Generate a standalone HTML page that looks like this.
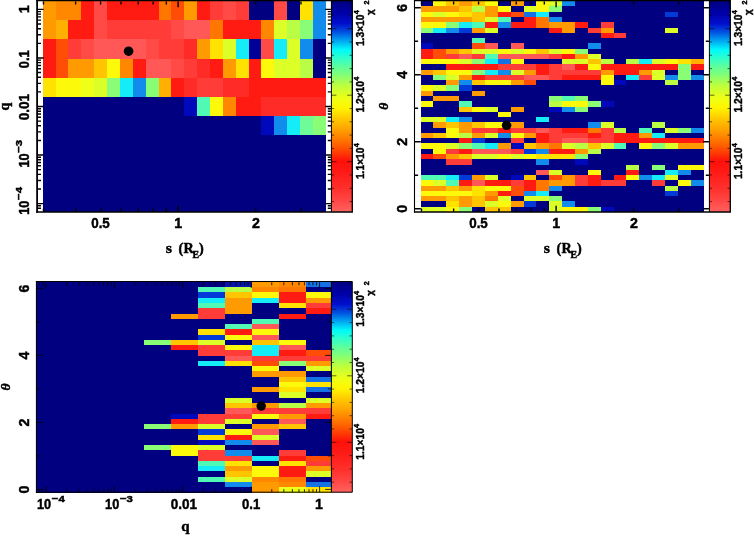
<!DOCTYPE html>
<html><head><meta charset="utf-8"><title>chi2 maps</title>
<style>html,body{margin:0;padding:0;background:#fff}svg{display:block}text{font-family:"Liberation Sans",sans-serif;font-weight:bold;fill:#000;stroke:#000;stroke-width:0.45px}.s{font-family:"Liberation Serif",serif;font-weight:bold}.i{font-family:"Liberation Serif",serif;font-weight:bold;font-style:italic}</style></head><body>
<svg width="754" height="537" viewBox="0 0 754 537">
<defs><linearGradient id="cb" x1="0" y1="0" x2="0" y2="1">
<stop offset="0.0000" stop-color="#000080"/>
<stop offset="0.0548" stop-color="#0000a5"/>
<stop offset="0.1071" stop-color="#000fcd"/>
<stop offset="0.1500" stop-color="#0055e1"/>
<stop offset="0.1833" stop-color="#009bf0"/>
<stop offset="0.2310" stop-color="#00fafa"/>
<stop offset="0.2738" stop-color="#32ffc8"/>
<stop offset="0.3167" stop-color="#64ff96"/>
<stop offset="0.3405" stop-color="#78ff82"/>
<stop offset="0.4024" stop-color="#beff3c"/>
<stop offset="0.4643" stop-color="#f0ff14"/>
<stop offset="0.5071" stop-color="#fff500"/>
<stop offset="0.5581" stop-color="#ffc800"/>
<stop offset="0.6119" stop-color="#ffa000"/>
<stop offset="0.6910" stop-color="#ff5a00"/>
<stop offset="0.7595" stop-color="#ff100a"/>
<stop offset="0.8262" stop-color="#ff1e1a"/>
<stop offset="0.8976" stop-color="#ff322e"/>
<stop offset="0.9452" stop-color="#ff4644"/>
<stop offset="1.0000" stop-color="#ff625f"/>
</linearGradient></defs>
<rect width="754" height="537" fill="#fff"/>
<g shape-rendering="crispEdges">
<rect x="43" y="1" width="283.2" height="211" fill="#000080"/>
<rect x="43" y="1" width="13" height="19" fill="#ff9a00"/>
<rect x="56" y="1" width="25" height="19" fill="#ff8800"/>
<rect x="81" y="1" width="13" height="19" fill="#ff1b11"/>
<rect x="94" y="1" width="13" height="19" fill="#ff4a46"/>
<rect x="107" y="1" width="52" height="19" fill="#ff1b11"/>
<rect x="159" y="1" width="12" height="19" fill="#ff7600"/>
<rect x="171" y="1" width="13" height="19" fill="#ff4c06"/>
<rect x="184" y="1" width="13" height="19" fill="#ff9a00"/>
<rect x="197" y="1" width="13" height="19" fill="#ff1b11"/>
<rect x="210" y="1" width="13" height="19" fill="#ff3c38"/>
<rect x="223" y="1" width="13" height="19" fill="#ff4a46"/>
<rect x="236" y="1" width="13" height="19" fill="#ff3c38"/>
<rect x="274" y="1" width="13" height="19" fill="#ff4a46"/>
<rect x="300" y="1" width="13" height="19" fill="#ffe200"/>
<rect x="313" y="1" width="13" height="19" fill="#128cec"/>
<rect x="43" y="20" width="13" height="19" fill="#ff9a00"/>
<rect x="56" y="20" width="12" height="19" fill="#ffb000"/>
<rect x="68" y="20" width="26" height="19" fill="#ff1b11"/>
<rect x="94" y="20" width="13" height="19" fill="#ff4a46"/>
<rect x="107" y="20" width="64" height="19" fill="#ff3c38"/>
<rect x="171" y="20" width="13" height="19" fill="#ff4a46"/>
<rect x="184" y="20" width="26" height="19" fill="#ff5856"/>
<rect x="210" y="20" width="13" height="19" fill="#ff7600"/>
<rect x="223" y="20" width="38" height="19" fill="#ff1b11"/>
<rect x="261" y="20" width="13" height="19" fill="#ff8800"/>
<rect x="274" y="20" width="13" height="19" fill="#ddff28"/>
<rect x="287" y="20" width="13" height="19" fill="#b9fe44"/>
<rect x="300" y="20" width="13" height="19" fill="#8afd76"/>
<rect x="313" y="20" width="13" height="19" fill="#128cec"/>
<rect x="43" y="39" width="13" height="20" fill="#ff1b11"/>
<rect x="56" y="39" width="12" height="20" fill="#ff4c06"/>
<rect x="68" y="39" width="13" height="20" fill="#ff3c38"/>
<rect x="81" y="39" width="13" height="20" fill="#ff4a46"/>
<rect x="94" y="39" width="52" height="20" fill="#ff5856"/>
<rect x="146" y="39" width="13" height="20" fill="#ff4a46"/>
<rect x="159" y="39" width="25" height="20" fill="#ff3c38"/>
<rect x="184" y="39" width="13" height="20" fill="#ff2b26"/>
<rect x="197" y="39" width="13" height="20" fill="#ff9a00"/>
<rect x="210" y="39" width="13" height="20" fill="#ffe200"/>
<rect x="223" y="39" width="13" height="20" fill="#ddff28"/>
<rect x="236" y="39" width="13" height="20" fill="#14ecf8"/>
<rect x="249" y="39" width="12" height="20" fill="#000098"/>
<rect x="261" y="39" width="13" height="20" fill="#ff4a46"/>
<rect x="274" y="39" width="13" height="20" fill="#14ecf8"/>
<rect x="287" y="39" width="13" height="20" fill="#ddff28"/>
<rect x="300" y="39" width="13" height="20" fill="#128cec"/>
<rect x="43" y="59" width="13" height="19" fill="#ff1b11"/>
<rect x="56" y="59" width="12" height="19" fill="#ff4c06"/>
<rect x="68" y="59" width="26" height="19" fill="#ff9a00"/>
<rect x="94" y="59" width="13" height="19" fill="#ffc600"/>
<rect x="107" y="59" width="13" height="19" fill="#fcf90a"/>
<rect x="120" y="59" width="13" height="19" fill="#ff8800"/>
<rect x="133" y="59" width="13" height="19" fill="#ff1b11"/>
<rect x="146" y="59" width="25" height="19" fill="#ff5856"/>
<rect x="171" y="59" width="13" height="19" fill="#ff4a46"/>
<rect x="184" y="59" width="13" height="19" fill="#ff3c38"/>
<rect x="197" y="59" width="13" height="19" fill="#ff2b26"/>
<rect x="210" y="59" width="13" height="19" fill="#ff1b11"/>
<rect x="223" y="59" width="13" height="19" fill="#ff9a00"/>
<rect x="236" y="59" width="13" height="19" fill="#ffe200"/>
<rect x="249" y="59" width="12" height="19" fill="#ff1b11"/>
<rect x="261" y="59" width="13" height="19" fill="#fcf90a"/>
<rect x="274" y="59" width="26" height="19" fill="#ddff28"/>
<rect x="300" y="59" width="13" height="19" fill="#b9fe44"/>
<rect x="43" y="78" width="13" height="19" fill="#ffe200"/>
<rect x="56" y="78" width="25" height="19" fill="#fcf90a"/>
<rect x="81" y="78" width="13" height="19" fill="#eeff18"/>
<rect x="94" y="78" width="13" height="19" fill="#ddff28"/>
<rect x="107" y="78" width="13" height="19" fill="#8afd76"/>
<rect x="120" y="78" width="13" height="19" fill="#14ecf8"/>
<rect x="133" y="78" width="13" height="19" fill="#128cec"/>
<rect x="146" y="78" width="13" height="19" fill="#8afd76"/>
<rect x="159" y="78" width="12" height="19" fill="#ffb000"/>
<rect x="171" y="78" width="13" height="19" fill="#ff1b11"/>
<rect x="184" y="78" width="13" height="19" fill="#ff2b26"/>
<rect x="197" y="78" width="26" height="19" fill="#ff3c38"/>
<rect x="223" y="78" width="26" height="19" fill="#ff2b26"/>
<rect x="249" y="78" width="77" height="19" fill="#ff1b11"/>
<rect x="184" y="97" width="13" height="19" fill="#0008bc"/>
<rect x="197" y="97" width="13" height="19" fill="#50fab4"/>
<rect x="210" y="97" width="13" height="19" fill="#fcf90a"/>
<rect x="223" y="97" width="13" height="19" fill="#ff8800"/>
<rect x="236" y="97" width="25" height="19" fill="#ff1b11"/>
<rect x="261" y="97" width="65" height="19" fill="#ff2b26"/>
<rect x="261" y="116" width="13" height="19" fill="#0008bc"/>
<rect x="274" y="116" width="13" height="19" fill="#128cec"/>
<rect x="287" y="116" width="13" height="19" fill="#14ecf8"/>
<rect x="300" y="116" width="13" height="19" fill="#6efb98"/>
<rect x="313" y="116" width="13" height="19" fill="#8afd76"/>
</g>
<g transform="translate(0,0)">
<rect x="331" y="1" width="21.2" height="210.8" fill="url(#cb)"/>
<path d="M331.6 2.1h2.5 M352 2.1h-2.5 M331.6 15.4h2.5 M352 15.4h-2.5 M331.6 28.7h4.8 M352 28.7h-4.8 M331.6 42h2.5 M352 42h-2.5 M331.6 55.3h2.5 M352 55.3h-2.5 M331.6 68.6h2.5 M352 68.6h-2.5 M331.6 81.9h2.5 M352 81.9h-2.5 M331.6 95.2h4.8 M352 95.2h-4.8 M331.6 108.5h2.5 M352 108.5h-2.5 M331.6 121.8h2.5 M352 121.8h-2.5 M331.6 135.1h2.5 M352 135.1h-2.5 M331.6 148.4h2.5 M352 148.4h-2.5 M331.6 161.7h4.8 M352 161.7h-4.8 M331.6 175h2.5 M352 175h-2.5 M331.6 188.3h2.5 M352 188.3h-2.5 M331.6 201.6h2.5 M352 201.6h-2.5" stroke="#000" stroke-opacity="0.75" stroke-width="0.8" fill="none"/>
<text transform="translate(364,46.1) rotate(-90)" font-size="10.6" textLength="31.6" lengthAdjust="spacingAndGlyphs">1.3×10</text>
<text transform="translate(359,14.3) rotate(-90)" font-size="7.2">4</text>
<text transform="translate(364,112.6) rotate(-90)" font-size="10.6" textLength="31.6" lengthAdjust="spacingAndGlyphs">1.2×10</text>
<text transform="translate(359,80.8) rotate(-90)" font-size="7.2">4</text>
<text transform="translate(364,179.1) rotate(-90)" font-size="10.6" textLength="31.6" lengthAdjust="spacingAndGlyphs">1.1×10</text>
<text transform="translate(359,147.3) rotate(-90)" font-size="7.2">4</text>
<text transform="translate(373.3,15.1) rotate(-90)" font-size="9.8">χ</text>
<text transform="translate(369.2,4.6) rotate(-90)" font-size="7.2">2</text>
</g>
<path d="M36.2 0.7H352.3V212H36.2" fill="none" stroke="#000" stroke-width="1.3"/>
<path d="M37.1 0.05V212.65" fill="none" stroke="#000" stroke-width="1.8"/>
<path d="M331.4 0.7V212" fill="none" stroke="#000" stroke-width="1"/>
<path d="M43.46 1.4v3.1 M43.46 211.5v-3.1 M75.63 1.4v3.1 M75.63 211.5v-3.1 M100.58 1.4v3.1 M100.58 211.5v-3.1 M120.97 1.4v3.1 M120.97 211.5v-3.1 M138.21 1.4v3.1 M138.21 211.5v-3.1 M153.15 1.4v3.1 M153.15 211.5v-3.1 M166.32 1.4v3.1 M166.32 211.5v-3.1 M178.1 1.4v5.8 M178.1 211.5v-5.8 M255.62 1.4v3.1 M255.62 211.5v-3.1 M300.96 1.4v3.1 M300.96 211.5v-3.1" stroke="#000" stroke-width="1.4" fill="none"/>
<path d="M37.9 208.3h3.1 M330.9 208.3h-3.1 M37.9 205.82h3.1 M330.9 205.82h-3.1 M37.9 203.6h5.8 M330.9 203.6h-5.8 M37.9 188.98h3.1 M330.9 188.98h-3.1 M37.9 180.44h3.1 M330.9 180.44h-3.1 M37.9 174.37h3.1 M330.9 174.37h-3.1 M37.9 169.67h3.1 M330.9 169.67h-3.1 M37.9 165.82h3.1 M330.9 165.82h-3.1 M37.9 162.57h3.1 M330.9 162.57h-3.1 M37.9 159.75h3.1 M330.9 159.75h-3.1 M37.9 157.27h3.1 M330.9 157.27h-3.1 M37.9 155.05h5.8 M330.9 155.05h-5.8 M37.9 140.43h3.1 M330.9 140.43h-3.1 M37.9 131.89h3.1 M330.9 131.89h-3.1 M37.9 125.82h3.1 M330.9 125.82h-3.1 M37.9 121.12h3.1 M330.9 121.12h-3.1 M37.9 117.27h3.1 M330.9 117.27h-3.1 M37.9 114.02h3.1 M330.9 114.02h-3.1 M37.9 111.2h3.1 M330.9 111.2h-3.1 M37.9 108.72h3.1 M330.9 108.72h-3.1 M37.9 106.5h5.8 M330.9 106.5h-5.8 M37.9 91.88h3.1 M330.9 91.88h-3.1 M37.9 83.34h3.1 M330.9 83.34h-3.1 M37.9 77.27h3.1 M330.9 77.27h-3.1 M37.9 72.57h3.1 M330.9 72.57h-3.1 M37.9 68.72h3.1 M330.9 68.72h-3.1 M37.9 65.47h3.1 M330.9 65.47h-3.1 M37.9 62.65h3.1 M330.9 62.65h-3.1 M37.9 60.17h3.1 M330.9 60.17h-3.1 M37.9 57.95h5.8 M330.9 57.95h-5.8 M37.9 43.33h3.1 M330.9 43.33h-3.1 M37.9 34.79h3.1 M330.9 34.79h-3.1 M37.9 28.72h3.1 M330.9 28.72h-3.1 M37.9 24.02h3.1 M330.9 24.02h-3.1 M37.9 20.17h3.1 M330.9 20.17h-3.1 M37.9 16.92h3.1 M330.9 16.92h-3.1 M37.9 14.1h3.1 M330.9 14.1h-3.1 M37.9 11.62h3.1 M330.9 11.62h-3.1 M37.9 9.4h5.8 M330.9 9.4h-5.8" stroke="#000" stroke-width="1.4" fill="none"/>
<circle cx="128.6" cy="51.2" r="4.8" fill="#000"/>
<text transform="translate(28.9,9.2) rotate(-90)" font-size="14.2" text-anchor="middle">1</text>
<text transform="translate(28.9,68.2) rotate(-90)" font-size="14.2" textLength="17.8" lengthAdjust="spacingAndGlyphs">0.1</text>
<text transform="translate(28.9,120.3) rotate(-90)" font-size="14.2" textLength="26.3" lengthAdjust="spacingAndGlyphs">0.01</text>
<text transform="translate(28.9,167.6) rotate(-90)" font-size="14.2" textLength="14.2" lengthAdjust="spacingAndGlyphs">10</text>
<text transform="translate(21.6,152.8) rotate(-90)" font-size="9.6" textLength="13" lengthAdjust="spacingAndGlyphs">−3</text>
<text transform="translate(28.9,214.8) rotate(-90)" font-size="14.2" textLength="14.2" lengthAdjust="spacingAndGlyphs">10</text>
<text transform="translate(21.6,200) rotate(-90)" font-size="9.6" textLength="13" lengthAdjust="spacingAndGlyphs">−4</text>
<text transform="translate(9.4,106.5) rotate(-90)" font-size="14" class="s" text-anchor="middle">q</text>
<text x="100.5" y="227.6" font-size="14.2" textLength="18.6" lengthAdjust="spacingAndGlyphs" text-anchor="middle">0.5</text>
<text x="178.3" y="227.6" font-size="14.2" text-anchor="middle">1</text>
<text x="255.9" y="227.6" font-size="14.2" text-anchor="middle">2</text>
<text class="s" font-size="14.2" y="252.9"><tspan x="165.8" textLength="6.2" lengthAdjust="spacingAndGlyphs">s</tspan><tspan x="178.6">(</tspan><tspan x="183.4">R</tspan><tspan x="192.6" dy="5.1" font-size="9.8">E</tspan><tspan x="199.1" dy="-5.1">)</tspan></text>
<g shape-rendering="crispEdges">
<rect x="421" y="1" width="283.2" height="211" fill="#000080"/>
<rect x="433" y="1" width="13" height="5" fill="#fcf90a"/>
<rect x="446" y="1" width="13" height="5" fill="#ffc600"/>
<rect x="459" y="1" width="13" height="5" fill="#ff9a00"/>
<rect x="472" y="1" width="13" height="5" fill="#ffc600"/>
<rect x="485" y="1" width="13" height="5" fill="#fcf90a"/>
<rect x="511" y="1" width="13" height="5" fill="#ff9a00"/>
<rect x="536" y="1" width="13" height="5" fill="#fcf90a"/>
<rect x="549" y="1" width="13" height="5" fill="#ddff28"/>
<rect x="562" y="1" width="13" height="5" fill="#128cec"/>
<rect x="421" y="6" width="38" height="6" fill="#ff9a00"/>
<rect x="459" y="6" width="13" height="6" fill="#ffc600"/>
<rect x="472" y="6" width="13" height="6" fill="#b9fe44"/>
<rect x="485" y="6" width="13" height="6" fill="#ff9a00"/>
<rect x="498" y="6" width="13" height="6" fill="#fcf90a"/>
<rect x="524" y="6" width="12" height="6" fill="#ddff28"/>
<rect x="536" y="6" width="13" height="6" fill="#fcf90a"/>
<rect x="549" y="6" width="13" height="6" fill="#8afd76"/>
<rect x="421" y="12" width="12" height="5" fill="#fcf90a"/>
<rect x="433" y="12" width="13" height="5" fill="#ddff28"/>
<rect x="446" y="12" width="13" height="5" fill="#fcf90a"/>
<rect x="459" y="12" width="13" height="5" fill="#ffe200"/>
<rect x="472" y="12" width="13" height="5" fill="#ffc600"/>
<rect x="485" y="12" width="13" height="5" fill="#ff9a00"/>
<rect x="498" y="12" width="13" height="5" fill="#ff1b11"/>
<rect x="511" y="12" width="13" height="5" fill="#ff4c06"/>
<rect x="524" y="12" width="12" height="5" fill="#1472e6"/>
<rect x="536" y="12" width="13" height="5" fill="#14ecf8"/>
<rect x="665" y="12" width="13" height="5" fill="#023ada"/>
<rect x="421" y="17" width="51" height="5" fill="#ff9a00"/>
<rect x="472" y="17" width="13" height="5" fill="#ffc600"/>
<rect x="485" y="17" width="13" height="5" fill="#ddff28"/>
<rect x="498" y="17" width="13" height="5" fill="#50fab4"/>
<rect x="524" y="17" width="12" height="5" fill="#ff1b11"/>
<rect x="536" y="17" width="13" height="5" fill="#ff7600"/>
<rect x="549" y="17" width="13" height="5" fill="#128cec"/>
<rect x="421" y="22" width="25" height="6" fill="#fcf90a"/>
<rect x="446" y="22" width="13" height="6" fill="#8afd76"/>
<rect x="459" y="22" width="13" height="6" fill="#14ecf8"/>
<rect x="472" y="22" width="13" height="6" fill="#50fab4"/>
<rect x="485" y="22" width="13" height="6" fill="#ff1b11"/>
<rect x="498" y="22" width="13" height="6" fill="#128cec"/>
<rect x="511" y="22" width="25" height="6" fill="#ff1b11"/>
<rect x="536" y="22" width="13" height="6" fill="#ff7600"/>
<rect x="549" y="22" width="26" height="6" fill="#ff9a00"/>
<rect x="575" y="22" width="13" height="6" fill="#ff1b11"/>
<rect x="601" y="22" width="13" height="6" fill="#ff3c38"/>
<rect x="421" y="28" width="12" height="5" fill="#8afd76"/>
<rect x="433" y="28" width="13" height="5" fill="#14ecf8"/>
<rect x="446" y="28" width="13" height="5" fill="#128cec"/>
<rect x="459" y="28" width="13" height="5" fill="#023ada"/>
<rect x="472" y="28" width="13" height="5" fill="#ff9a00"/>
<rect x="485" y="28" width="13" height="5" fill="#ddff28"/>
<rect x="549" y="28" width="13" height="5" fill="#ff1b11"/>
<rect x="562" y="28" width="13" height="5" fill="#ff9a00"/>
<rect x="588" y="28" width="13" height="5" fill="#ff3c38"/>
<rect x="601" y="28" width="13" height="5" fill="#ff9a00"/>
<rect x="665" y="28" width="13" height="5" fill="#ddff28"/>
<rect x="601" y="33" width="13" height="5" fill="#ff1b11"/>
<rect x="614" y="33" width="12" height="5" fill="#ff3c38"/>
<rect x="472" y="38" width="13" height="5" fill="#50fab4"/>
<rect x="421" y="43" width="12" height="6" fill="#0008bc"/>
<rect x="472" y="43" width="13" height="6" fill="#ff4c06"/>
<rect x="485" y="43" width="13" height="6" fill="#ff5856"/>
<rect x="511" y="43" width="13" height="6" fill="#ff5856"/>
<rect x="588" y="43" width="13" height="6" fill="#128cec"/>
<rect x="421" y="49" width="12" height="5" fill="#ff1b11"/>
<rect x="433" y="49" width="13" height="5" fill="#ff4c06"/>
<rect x="446" y="49" width="13" height="5" fill="#ff9a00"/>
<rect x="459" y="49" width="13" height="5" fill="#ffc600"/>
<rect x="472" y="49" width="26" height="5" fill="#ddff28"/>
<rect x="498" y="49" width="13" height="5" fill="#fcf90a"/>
<rect x="511" y="49" width="13" height="5" fill="#ddff28"/>
<rect x="524" y="49" width="12" height="5" fill="#fcf90a"/>
<rect x="536" y="49" width="13" height="5" fill="#ffc600"/>
<rect x="549" y="49" width="13" height="5" fill="#ddff28"/>
<rect x="562" y="49" width="13" height="5" fill="#fcf90a"/>
<rect x="575" y="49" width="13" height="5" fill="#8afd76"/>
<rect x="421" y="54" width="12" height="5" fill="#ff1b11"/>
<rect x="433" y="54" width="13" height="5" fill="#ff4c06"/>
<rect x="446" y="54" width="13" height="5" fill="#ff3c38"/>
<rect x="459" y="54" width="13" height="5" fill="#ff5856"/>
<rect x="472" y="54" width="13" height="5" fill="#ff3c38"/>
<rect x="485" y="54" width="13" height="5" fill="#50fab4"/>
<rect x="498" y="54" width="51" height="5" fill="#ff5856"/>
<rect x="549" y="54" width="13" height="5" fill="#ff3c38"/>
<rect x="562" y="54" width="13" height="5" fill="#ff1b11"/>
<rect x="575" y="54" width="13" height="5" fill="#ff9a00"/>
<rect x="588" y="54" width="13" height="5" fill="#ddff28"/>
<rect x="421" y="59" width="38" height="5" fill="#fcf90a"/>
<rect x="459" y="59" width="13" height="5" fill="#ddff28"/>
<rect x="472" y="59" width="13" height="5" fill="#8afd76"/>
<rect x="485" y="59" width="13" height="5" fill="#14ecf8"/>
<rect x="498" y="59" width="13" height="5" fill="#1472e6"/>
<rect x="511" y="59" width="13" height="5" fill="#fcf90a"/>
<rect x="562" y="59" width="26" height="5" fill="#ddff28"/>
<rect x="588" y="59" width="13" height="5" fill="#ffc600"/>
<rect x="601" y="59" width="13" height="5" fill="#b9fe44"/>
<rect x="626" y="59" width="13" height="5" fill="#b9fe44"/>
<rect x="639" y="59" width="13" height="5" fill="#14ecf8"/>
<rect x="652" y="59" width="13" height="5" fill="#ddff28"/>
<rect x="665" y="59" width="13" height="5" fill="#fcf90a"/>
<rect x="678" y="59" width="13" height="5" fill="#ffe200"/>
<rect x="691" y="59" width="13" height="5" fill="#ffb000"/>
<rect x="446" y="64" width="52" height="6" fill="#ff1b11"/>
<rect x="498" y="64" width="38" height="6" fill="#ff3c38"/>
<rect x="536" y="64" width="13" height="6" fill="#ff1b11"/>
<rect x="549" y="64" width="13" height="6" fill="#ff3c38"/>
<rect x="562" y="64" width="13" height="6" fill="#ff5856"/>
<rect x="575" y="64" width="13" height="6" fill="#ff1b11"/>
<rect x="588" y="64" width="13" height="6" fill="#fcf90a"/>
<rect x="601" y="64" width="77" height="6" fill="#ff1b11"/>
<rect x="678" y="64" width="13" height="6" fill="#8afd76"/>
<rect x="691" y="64" width="13" height="6" fill="#ff1b11"/>
<rect x="421" y="70" width="12" height="5" fill="#ff9a00"/>
<rect x="433" y="70" width="13" height="5" fill="#ffc600"/>
<rect x="446" y="70" width="26" height="5" fill="#fcf90a"/>
<rect x="472" y="70" width="13" height="5" fill="#8afd76"/>
<rect x="485" y="70" width="13" height="5" fill="#14ecf8"/>
<rect x="498" y="70" width="13" height="5" fill="#128cec"/>
<rect x="511" y="70" width="13" height="5" fill="#ddff28"/>
<rect x="524" y="70" width="12" height="5" fill="#ff9a00"/>
<rect x="536" y="70" width="13" height="5" fill="#ff1b11"/>
<rect x="549" y="70" width="52" height="5" fill="#ff3c38"/>
<rect x="601" y="70" width="13" height="5" fill="#ff9a00"/>
<rect x="614" y="70" width="25" height="5" fill="#ff1b11"/>
<rect x="639" y="70" width="13" height="5" fill="#ff9a00"/>
<rect x="652" y="70" width="13" height="5" fill="#ddff28"/>
<rect x="678" y="70" width="13" height="5" fill="#8afd76"/>
<rect x="433" y="75" width="13" height="5" fill="#8afd76"/>
<rect x="446" y="75" width="13" height="5" fill="#ddff28"/>
<rect x="459" y="75" width="13" height="5" fill="#ff9a00"/>
<rect x="472" y="75" width="13" height="5" fill="#ff1b11"/>
<rect x="485" y="75" width="39" height="5" fill="#ff3c38"/>
<rect x="524" y="75" width="25" height="5" fill="#ff5856"/>
<rect x="549" y="75" width="13" height="5" fill="#ff3c38"/>
<rect x="562" y="75" width="39" height="5" fill="#ff1b11"/>
<rect x="601" y="75" width="13" height="5" fill="#fcf90a"/>
<rect x="626" y="75" width="13" height="5" fill="#14ecf8"/>
<rect x="639" y="75" width="13" height="5" fill="#ff3c38"/>
<rect x="652" y="75" width="13" height="5" fill="#ddff28"/>
<rect x="665" y="75" width="13" height="5" fill="#128cec"/>
<rect x="678" y="75" width="13" height="5" fill="#8afd76"/>
<rect x="691" y="75" width="13" height="5" fill="#128cec"/>
<rect x="446" y="80" width="13" height="5" fill="#ff9a00"/>
<rect x="459" y="80" width="13" height="5" fill="#128cec"/>
<rect x="472" y="80" width="13" height="5" fill="#ffc600"/>
<rect x="485" y="80" width="26" height="5" fill="#fcf90a"/>
<rect x="511" y="80" width="13" height="5" fill="#ff9a00"/>
<rect x="524" y="80" width="12" height="5" fill="#ff4c06"/>
<rect x="601" y="80" width="13" height="5" fill="#fcf90a"/>
<rect x="614" y="80" width="12" height="5" fill="#0008bc"/>
<rect x="665" y="80" width="13" height="5" fill="#b9fe44"/>
<rect x="421" y="85" width="12" height="6" fill="#fcf90a"/>
<rect x="433" y="85" width="13" height="6" fill="#ddff28"/>
<rect x="446" y="85" width="13" height="6" fill="#8afd76"/>
<rect x="459" y="85" width="13" height="6" fill="#023ada"/>
<rect x="421" y="91" width="12" height="5" fill="#ff9a00"/>
<rect x="472" y="91" width="13" height="5" fill="#ff9a00"/>
<rect x="433" y="96" width="26" height="5" fill="#ff9a00"/>
<rect x="549" y="96" width="13" height="5" fill="#8afd76"/>
<rect x="562" y="96" width="13" height="5" fill="#50fab4"/>
<rect x="575" y="96" width="13" height="5" fill="#8afd76"/>
<rect x="421" y="101" width="12" height="6" fill="#fcf90a"/>
<rect x="459" y="101" width="13" height="6" fill="#50fab4"/>
<rect x="549" y="101" width="13" height="6" fill="#b9fe44"/>
<rect x="562" y="101" width="26" height="6" fill="#fcf90a"/>
<rect x="588" y="101" width="13" height="6" fill="#8afd76"/>
<rect x="601" y="101" width="13" height="6" fill="#0008bc"/>
<rect x="459" y="107" width="13" height="5" fill="#ffc600"/>
<rect x="472" y="107" width="13" height="5" fill="#fcf90a"/>
<rect x="485" y="107" width="13" height="5" fill="#ddff28"/>
<rect x="511" y="107" width="13" height="5" fill="#ff9a00"/>
<rect x="549" y="107" width="13" height="5" fill="#0008bc"/>
<rect x="562" y="107" width="13" height="5" fill="#128cec"/>
<rect x="575" y="107" width="13" height="5" fill="#8afd76"/>
<rect x="498" y="112" width="13" height="5" fill="#fcf90a"/>
<rect x="421" y="117" width="25" height="5" fill="#ddff28"/>
<rect x="446" y="117" width="13" height="5" fill="#14ecf8"/>
<rect x="459" y="117" width="13" height="5" fill="#128cec"/>
<rect x="536" y="117" width="13" height="5" fill="#14ecf8"/>
<rect x="433" y="122" width="13" height="6" fill="#ff9a00"/>
<rect x="446" y="122" width="13" height="6" fill="#ffc600"/>
<rect x="459" y="122" width="13" height="6" fill="#ff9a00"/>
<rect x="472" y="122" width="13" height="6" fill="#ffc600"/>
<rect x="485" y="122" width="26" height="6" fill="#fcf90a"/>
<rect x="511" y="122" width="13" height="6" fill="#ff9a00"/>
<rect x="588" y="122" width="13" height="6" fill="#128cec"/>
<rect x="601" y="122" width="13" height="6" fill="#ddff28"/>
<rect x="652" y="122" width="13" height="6" fill="#b9fe44"/>
<rect x="446" y="128" width="13" height="5" fill="#fcf90a"/>
<rect x="459" y="128" width="13" height="5" fill="#ff9a00"/>
<rect x="472" y="128" width="26" height="5" fill="#ff3c38"/>
<rect x="498" y="128" width="13" height="5" fill="#ff1b11"/>
<rect x="511" y="128" width="25" height="5" fill="#ff3c38"/>
<rect x="536" y="128" width="13" height="5" fill="#ff5856"/>
<rect x="549" y="128" width="13" height="5" fill="#ff3c38"/>
<rect x="562" y="128" width="26" height="5" fill="#ff1b11"/>
<rect x="588" y="128" width="13" height="5" fill="#ff7600"/>
<rect x="601" y="128" width="13" height="5" fill="#ff3c38"/>
<rect x="614" y="128" width="12" height="5" fill="#b9fe44"/>
<rect x="639" y="128" width="13" height="5" fill="#50fab4"/>
<rect x="665" y="128" width="13" height="5" fill="#ddff28"/>
<rect x="678" y="128" width="13" height="5" fill="#8afd76"/>
<rect x="691" y="128" width="13" height="5" fill="#128cec"/>
<rect x="421" y="133" width="12" height="5" fill="#ff9a00"/>
<rect x="433" y="133" width="13" height="5" fill="#ffc600"/>
<rect x="446" y="133" width="13" height="5" fill="#fcf90a"/>
<rect x="459" y="133" width="13" height="5" fill="#b9fe44"/>
<rect x="472" y="133" width="13" height="5" fill="#ff9a00"/>
<rect x="485" y="133" width="13" height="5" fill="#ddff28"/>
<rect x="498" y="133" width="13" height="5" fill="#128cec"/>
<rect x="511" y="133" width="13" height="5" fill="#fcf90a"/>
<rect x="524" y="133" width="12" height="5" fill="#ff9a00"/>
<rect x="536" y="133" width="13" height="5" fill="#ff1b11"/>
<rect x="549" y="133" width="39" height="5" fill="#ff3c38"/>
<rect x="588" y="133" width="13" height="5" fill="#ff1b11"/>
<rect x="601" y="133" width="13" height="5" fill="#ff3c38"/>
<rect x="614" y="133" width="25" height="5" fill="#ff1b11"/>
<rect x="639" y="133" width="13" height="5" fill="#ff9a00"/>
<rect x="652" y="133" width="13" height="5" fill="#14ecf8"/>
<rect x="459" y="138" width="13" height="5" fill="#ff1b11"/>
<rect x="472" y="138" width="13" height="5" fill="#023ada"/>
<rect x="511" y="138" width="13" height="5" fill="#ff3c38"/>
<rect x="536" y="138" width="13" height="5" fill="#ff1b11"/>
<rect x="549" y="138" width="13" height="5" fill="#ff3c38"/>
<rect x="562" y="138" width="26" height="5" fill="#ff5856"/>
<rect x="588" y="138" width="26" height="5" fill="#ff3c38"/>
<rect x="614" y="138" width="90" height="5" fill="#ff1b11"/>
<rect x="421" y="143" width="25" height="6" fill="#fcf90a"/>
<rect x="446" y="143" width="13" height="6" fill="#ddff28"/>
<rect x="459" y="143" width="13" height="6" fill="#8afd76"/>
<rect x="472" y="143" width="13" height="6" fill="#50fab4"/>
<rect x="485" y="143" width="13" height="6" fill="#14ecf8"/>
<rect x="498" y="143" width="13" height="6" fill="#ff9a00"/>
<rect x="511" y="143" width="13" height="6" fill="#0008bc"/>
<rect x="524" y="143" width="12" height="6" fill="#ffc600"/>
<rect x="536" y="143" width="13" height="6" fill="#ff9a00"/>
<rect x="549" y="143" width="13" height="6" fill="#ff7600"/>
<rect x="562" y="143" width="13" height="6" fill="#ddff28"/>
<rect x="575" y="143" width="13" height="6" fill="#b9fe44"/>
<rect x="588" y="143" width="13" height="6" fill="#ffc600"/>
<rect x="601" y="143" width="13" height="6" fill="#ddff28"/>
<rect x="614" y="143" width="12" height="6" fill="#50fab4"/>
<rect x="639" y="143" width="13" height="6" fill="#fcf90a"/>
<rect x="652" y="143" width="13" height="6" fill="#8afd76"/>
<rect x="665" y="143" width="13" height="6" fill="#ddff28"/>
<rect x="678" y="143" width="26" height="6" fill="#ff9a00"/>
<rect x="433" y="149" width="13" height="5" fill="#fcf90a"/>
<rect x="446" y="149" width="13" height="5" fill="#ff3c38"/>
<rect x="459" y="149" width="13" height="5" fill="#ff1b11"/>
<rect x="472" y="149" width="39" height="5" fill="#ff5856"/>
<rect x="511" y="149" width="13" height="5" fill="#ff3c38"/>
<rect x="524" y="149" width="12" height="5" fill="#023ada"/>
<rect x="536" y="149" width="13" height="5" fill="#128cec"/>
<rect x="549" y="149" width="26" height="5" fill="#ff1b11"/>
<rect x="575" y="149" width="13" height="5" fill="#ff9a00"/>
<rect x="588" y="149" width="13" height="5" fill="#b9fe44"/>
<rect x="421" y="154" width="12" height="5" fill="#ff1b11"/>
<rect x="433" y="154" width="13" height="5" fill="#ff4c06"/>
<rect x="446" y="154" width="13" height="5" fill="#ff9a00"/>
<rect x="459" y="154" width="13" height="5" fill="#ffc600"/>
<rect x="472" y="154" width="26" height="5" fill="#ddff28"/>
<rect x="498" y="154" width="13" height="5" fill="#fcf90a"/>
<rect x="511" y="154" width="13" height="5" fill="#ddff28"/>
<rect x="524" y="154" width="12" height="5" fill="#fcf90a"/>
<rect x="536" y="154" width="39" height="5" fill="#ffe200"/>
<rect x="575" y="154" width="13" height="5" fill="#8afd76"/>
<rect x="446" y="159" width="26" height="6" fill="#ff3c38"/>
<rect x="536" y="159" width="13" height="6" fill="#128cec"/>
<rect x="575" y="159" width="13" height="6" fill="#0008bc"/>
<rect x="626" y="165" width="13" height="5" fill="#b9fe44"/>
<rect x="652" y="165" width="13" height="5" fill="#8afd76"/>
<rect x="678" y="165" width="26" height="5" fill="#fcf90a"/>
<rect x="536" y="170" width="13" height="5" fill="#ff5856"/>
<rect x="549" y="170" width="13" height="5" fill="#ddff28"/>
<rect x="588" y="170" width="13" height="5" fill="#fcf90a"/>
<rect x="626" y="170" width="13" height="5" fill="#ff1b11"/>
<rect x="665" y="170" width="13" height="5" fill="#14ecf8"/>
<rect x="678" y="170" width="13" height="5" fill="#128cec"/>
<rect x="421" y="175" width="25" height="5" fill="#50fab4"/>
<rect x="446" y="175" width="13" height="5" fill="#14ecf8"/>
<rect x="459" y="175" width="13" height="5" fill="#023ada"/>
<rect x="472" y="175" width="13" height="5" fill="#ff9a00"/>
<rect x="485" y="175" width="13" height="5" fill="#ddff28"/>
<rect x="511" y="175" width="13" height="5" fill="#0008bc"/>
<rect x="524" y="175" width="12" height="5" fill="#ffc600"/>
<rect x="549" y="175" width="13" height="5" fill="#ff4c06"/>
<rect x="562" y="175" width="13" height="5" fill="#ff9a00"/>
<rect x="575" y="175" width="13" height="5" fill="#ff3c38"/>
<rect x="588" y="175" width="13" height="5" fill="#ff1b11"/>
<rect x="614" y="175" width="12" height="5" fill="#ff1b11"/>
<rect x="626" y="175" width="13" height="5" fill="#fcf90a"/>
<rect x="639" y="175" width="13" height="5" fill="#128cec"/>
<rect x="652" y="175" width="13" height="5" fill="#14ecf8"/>
<rect x="665" y="175" width="13" height="5" fill="#ddff28"/>
<rect x="421" y="180" width="12" height="6" fill="#fcf90a"/>
<rect x="433" y="180" width="13" height="6" fill="#ddff28"/>
<rect x="446" y="180" width="13" height="6" fill="#50fab4"/>
<rect x="459" y="180" width="13" height="6" fill="#ff1b11"/>
<rect x="472" y="180" width="13" height="6" fill="#ff5856"/>
<rect x="485" y="180" width="26" height="6" fill="#ff1b11"/>
<rect x="511" y="180" width="13" height="6" fill="#ff3c38"/>
<rect x="524" y="180" width="12" height="6" fill="#ff1b11"/>
<rect x="536" y="180" width="13" height="6" fill="#ff7600"/>
<rect x="549" y="180" width="26" height="6" fill="#ff9a00"/>
<rect x="575" y="180" width="13" height="6" fill="#ff3c38"/>
<rect x="588" y="180" width="13" height="6" fill="#ff1b11"/>
<rect x="601" y="180" width="25" height="6" fill="#ff3c38"/>
<rect x="652" y="180" width="13" height="6" fill="#ff3c38"/>
<rect x="678" y="180" width="13" height="6" fill="#fcf90a"/>
<rect x="691" y="180" width="13" height="6" fill="#128cec"/>
<rect x="421" y="186" width="25" height="5" fill="#ff9a00"/>
<rect x="446" y="186" width="13" height="5" fill="#ffc600"/>
<rect x="459" y="186" width="13" height="5" fill="#ff9a00"/>
<rect x="472" y="186" width="13" height="5" fill="#ffe200"/>
<rect x="485" y="186" width="26" height="5" fill="#fcf90a"/>
<rect x="511" y="186" width="13" height="5" fill="#ff4c06"/>
<rect x="524" y="186" width="12" height="5" fill="#ff1b11"/>
<rect x="536" y="186" width="13" height="5" fill="#ff7600"/>
<rect x="549" y="186" width="13" height="5" fill="#128cec"/>
<rect x="665" y="186" width="13" height="5" fill="#b9fe44"/>
<rect x="421" y="191" width="51" height="5" fill="#fcf90a"/>
<rect x="472" y="191" width="13" height="5" fill="#ffe200"/>
<rect x="485" y="191" width="13" height="5" fill="#ff9a00"/>
<rect x="498" y="191" width="13" height="5" fill="#ff1b11"/>
<rect x="511" y="191" width="13" height="5" fill="#ff4c06"/>
<rect x="524" y="191" width="12" height="5" fill="#128cec"/>
<rect x="536" y="191" width="13" height="5" fill="#14ecf8"/>
<rect x="665" y="191" width="13" height="5" fill="#023ada"/>
<rect x="421" y="196" width="25" height="5" fill="#ff9a00"/>
<rect x="446" y="196" width="13" height="5" fill="#ffc600"/>
<rect x="459" y="196" width="13" height="5" fill="#ff9a00"/>
<rect x="472" y="196" width="13" height="5" fill="#ffc600"/>
<rect x="485" y="196" width="13" height="5" fill="#ff7600"/>
<rect x="498" y="196" width="13" height="5" fill="#ddff28"/>
<rect x="524" y="196" width="25" height="5" fill="#ddff28"/>
<rect x="549" y="196" width="13" height="5" fill="#8afd76"/>
<rect x="446" y="201" width="13" height="6" fill="#ffe200"/>
<rect x="459" y="201" width="13" height="6" fill="#ff9a00"/>
<rect x="472" y="201" width="13" height="6" fill="#ffc600"/>
<rect x="485" y="201" width="13" height="6" fill="#ddff28"/>
<rect x="498" y="201" width="13" height="6" fill="#fcf90a"/>
<rect x="511" y="201" width="13" height="6" fill="#ff9a00"/>
<rect x="524" y="201" width="12" height="6" fill="#023ada"/>
<rect x="549" y="201" width="13" height="6" fill="#ddff28"/>
<rect x="562" y="201" width="13" height="6" fill="#128cec"/>
<rect x="421" y="207" width="25" height="5" fill="#ddff28"/>
<rect x="446" y="207" width="13" height="5" fill="#fcf90a"/>
<rect x="459" y="207" width="13" height="5" fill="#8afd76"/>
<rect x="485" y="207" width="26" height="5" fill="#ffc600"/>
<rect x="549" y="207" width="13" height="5" fill="#ddff28"/>
<rect x="562" y="207" width="26" height="5" fill="#fcf90a"/>
<rect x="588" y="207" width="13" height="5" fill="#8afd76"/>
<rect x="601" y="207" width="13" height="5" fill="#0008bc"/>
</g>
<g transform="translate(378,0)">
<rect x="331" y="1" width="21.2" height="210.8" fill="url(#cb)"/>
<path d="M331.6 2.1h2.5 M352 2.1h-2.5 M331.6 15.4h2.5 M352 15.4h-2.5 M331.6 28.7h4.8 M352 28.7h-4.8 M331.6 42h2.5 M352 42h-2.5 M331.6 55.3h2.5 M352 55.3h-2.5 M331.6 68.6h2.5 M352 68.6h-2.5 M331.6 81.9h2.5 M352 81.9h-2.5 M331.6 95.2h4.8 M352 95.2h-4.8 M331.6 108.5h2.5 M352 108.5h-2.5 M331.6 121.8h2.5 M352 121.8h-2.5 M331.6 135.1h2.5 M352 135.1h-2.5 M331.6 148.4h2.5 M352 148.4h-2.5 M331.6 161.7h4.8 M352 161.7h-4.8 M331.6 175h2.5 M352 175h-2.5 M331.6 188.3h2.5 M352 188.3h-2.5 M331.6 201.6h2.5 M352 201.6h-2.5" stroke="#000" stroke-opacity="0.75" stroke-width="0.8" fill="none"/>
<text transform="translate(364,46.1) rotate(-90)" font-size="10.6" textLength="31.6" lengthAdjust="spacingAndGlyphs">1.3×10</text>
<text transform="translate(359,14.3) rotate(-90)" font-size="7.2">4</text>
<text transform="translate(364,112.6) rotate(-90)" font-size="10.6" textLength="31.6" lengthAdjust="spacingAndGlyphs">1.2×10</text>
<text transform="translate(359,80.8) rotate(-90)" font-size="7.2">4</text>
<text transform="translate(364,179.1) rotate(-90)" font-size="10.6" textLength="31.6" lengthAdjust="spacingAndGlyphs">1.1×10</text>
<text transform="translate(359,147.3) rotate(-90)" font-size="7.2">4</text>
<text transform="translate(373.3,15.1) rotate(-90)" font-size="9.8">χ</text>
<text transform="translate(369.2,4.6) rotate(-90)" font-size="7.2">2</text>
</g>
<path d="M413.95 0.7H730.3V212H413.95" fill="none" stroke="#000" stroke-width="1.3"/>
<path d="M414.5 0.05V212.65" fill="none" stroke="#000" stroke-width="1.1"/>
<path d="M709.4 0.7V212" fill="none" stroke="#000" stroke-width="1"/>
<path d="M421.46 1.4v3.1 M421.46 211.5v-3.1 M453.63 1.4v3.1 M453.63 211.5v-3.1 M478.58 1.4v3.1 M478.58 211.5v-3.1 M498.97 1.4v3.1 M498.97 211.5v-3.1 M516.21 1.4v3.1 M516.21 211.5v-3.1 M531.15 1.4v3.1 M531.15 211.5v-3.1 M544.32 1.4v3.1 M544.32 211.5v-3.1 M556.1 1.4v5.8 M556.1 211.5v-5.8 M633.62 1.4v3.1 M633.62 211.5v-3.1 M678.96 1.4v3.1 M678.96 211.5v-3.1" stroke="#000" stroke-width="1.4" fill="none"/>
<path d="M415 208.8h5.8 M708.9 208.8h-5.8 M415 175.3h3.1 M708.9 175.3h-3.1 M415 141.8h5.8 M708.9 141.8h-5.8 M415 108.3h3.1 M708.9 108.3h-3.1 M415 74.8h5.8 M708.9 74.8h-5.8 M415 41.3h3.1 M708.9 41.3h-3.1 M415 7.8h5.8 M708.9 7.8h-5.8" stroke="#000" stroke-width="1.4" fill="none"/>
<circle cx="506.6" cy="125.3" r="4.8" fill="#000"/>
<text transform="translate(406.9,208.9) rotate(-90)" font-size="14.2" text-anchor="middle">0</text>
<text transform="translate(406.9,141.9) rotate(-90)" font-size="14.2" text-anchor="middle">2</text>
<text transform="translate(406.9,74.9) rotate(-90)" font-size="14.2" text-anchor="middle">4</text>
<text transform="translate(406.9,7.9) rotate(-90)" font-size="14.2" text-anchor="middle">6</text>
<text transform="translate(387.9,106.3) rotate(-90)" font-size="13.5" class="i" text-anchor="middle">θ</text>
<text x="478.5" y="227.6" font-size="14.2" textLength="18.6" lengthAdjust="spacingAndGlyphs" text-anchor="middle">0.5</text>
<text x="556.3" y="227.6" font-size="14.2" text-anchor="middle">1</text>
<text x="633.9" y="227.6" font-size="14.2" text-anchor="middle">2</text>
<text class="s" font-size="14.2" y="252.9"><tspan x="543.8" textLength="6.2" lengthAdjust="spacingAndGlyphs">s</tspan><tspan x="556.6">(</tspan><tspan x="561.4">R</tspan><tspan x="570.6" dy="5.1" font-size="9.8">E</tspan><tspan x="577.1" dy="-5.1">)</tspan></text>
<g shape-rendering="crispEdges">
<rect x="36" y="281" width="295" height="211.5" fill="#000080"/>
<rect x="225" y="281" width="27" height="6" fill="#0614ac"/>
<rect x="252" y="281" width="27" height="6" fill="#ff9a00"/>
<rect x="279" y="281" width="27" height="6" fill="#ff8800"/>
<rect x="306" y="281" width="25" height="6" fill="#1472e6"/>
<rect x="198" y="287" width="27" height="5" fill="#50fab4"/>
<rect x="225" y="287" width="27" height="5" fill="#b9fe44"/>
<rect x="252" y="287" width="27" height="5" fill="#ff8800"/>
<rect x="279" y="287" width="27" height="5" fill="#ff7600"/>
<rect x="198" y="292" width="27" height="6" fill="#023ada"/>
<rect x="225" y="292" width="27" height="6" fill="#ffc600"/>
<rect x="252" y="292" width="27" height="6" fill="#fcf90a"/>
<rect x="279" y="292" width="27" height="6" fill="#ff1b11"/>
<rect x="306" y="292" width="25" height="6" fill="#fcf90a"/>
<rect x="198" y="298" width="27" height="5" fill="#14ecf8"/>
<rect x="225" y="298" width="27" height="5" fill="#ff9a00"/>
<rect x="252" y="298" width="27" height="5" fill="#14ecf8"/>
<rect x="279" y="298" width="27" height="5" fill="#ff1b11"/>
<rect x="306" y="298" width="25" height="5" fill="#ff9a00"/>
<rect x="198" y="303" width="27" height="5" fill="#50fab4"/>
<rect x="225" y="303" width="27" height="5" fill="#ff9a00"/>
<rect x="279" y="303" width="27" height="5" fill="#ffe200"/>
<rect x="306" y="303" width="25" height="5" fill="#ff3c38"/>
<rect x="198" y="308" width="27" height="6" fill="#ff3c38"/>
<rect x="225" y="308" width="27" height="6" fill="#ff9a00"/>
<rect x="306" y="308" width="25" height="6" fill="#ff1b11"/>
<rect x="171" y="314" width="27" height="5" fill="#ff9a00"/>
<rect x="198" y="314" width="27" height="5" fill="#ff3c38"/>
<rect x="279" y="314" width="27" height="5" fill="#ff1b11"/>
<rect x="252" y="319" width="27" height="5" fill="#50fab4"/>
<rect x="225" y="324" width="27" height="5" fill="#50fab4"/>
<rect x="252" y="324" width="27" height="5" fill="#ff5856"/>
<rect x="198" y="329" width="27" height="6" fill="#ffe200"/>
<rect x="225" y="329" width="27" height="6" fill="#ff1b11"/>
<rect x="252" y="329" width="27" height="6" fill="#fcf90a"/>
<rect x="198" y="335" width="27" height="5" fill="#023ada"/>
<rect x="225" y="335" width="27" height="5" fill="#fcf90a"/>
<rect x="252" y="335" width="27" height="5" fill="#ff5856"/>
<rect x="144" y="340" width="27" height="5" fill="#8afd76"/>
<rect x="171" y="340" width="27" height="5" fill="#ffc600"/>
<rect x="198" y="340" width="27" height="5" fill="#ddff28"/>
<rect x="252" y="340" width="27" height="5" fill="#ffc600"/>
<rect x="279" y="340" width="27" height="5" fill="#fcf90a"/>
<rect x="171" y="345" width="27" height="5" fill="#ff1b11"/>
<rect x="198" y="345" width="27" height="5" fill="#ff3c38"/>
<rect x="225" y="345" width="27" height="5" fill="#fcf90a"/>
<rect x="252" y="345" width="27" height="5" fill="#14ecf8"/>
<rect x="279" y="345" width="27" height="5" fill="#ff5856"/>
<rect x="198" y="350" width="54" height="6" fill="#ff3c38"/>
<rect x="252" y="350" width="27" height="6" fill="#14ecf8"/>
<rect x="279" y="350" width="27" height="6" fill="#ff1b11"/>
<rect x="306" y="350" width="25" height="6" fill="#ff4c06"/>
<rect x="225" y="356" width="27" height="5" fill="#ff5856"/>
<rect x="252" y="356" width="79" height="5" fill="#ff3c38"/>
<rect x="198" y="361" width="27" height="5" fill="#14ecf8"/>
<rect x="225" y="361" width="27" height="5" fill="#ffe200"/>
<rect x="252" y="361" width="27" height="5" fill="#ff4c06"/>
<rect x="279" y="361" width="27" height="5" fill="#8afd76"/>
<rect x="306" y="361" width="25" height="5" fill="#ff9a00"/>
<rect x="252" y="366" width="27" height="5" fill="#fcf90a"/>
<rect x="306" y="366" width="25" height="5" fill="#ddff28"/>
<rect x="252" y="371" width="54" height="6" fill="#ff9a00"/>
<rect x="279" y="377" width="27" height="5" fill="#ffc600"/>
<rect x="306" y="377" width="25" height="5" fill="#1472e6"/>
<rect x="279" y="382" width="27" height="5" fill="#fcf90a"/>
<rect x="306" y="382" width="25" height="5" fill="#ffe200"/>
<rect x="252" y="387" width="27" height="5" fill="#ff9a00"/>
<rect x="279" y="387" width="27" height="5" fill="#ffe200"/>
<rect x="306" y="387" width="25" height="5" fill="#1472e6"/>
<rect x="279" y="392" width="27" height="6" fill="#ddff28"/>
<rect x="225" y="398" width="27" height="5" fill="#ddff28"/>
<rect x="306" y="398" width="25" height="5" fill="#ddff28"/>
<rect x="225" y="403" width="27" height="5" fill="#ffc600"/>
<rect x="252" y="403" width="27" height="5" fill="#ff9a00"/>
<rect x="279" y="403" width="27" height="5" fill="#b9fe44"/>
<rect x="306" y="403" width="25" height="5" fill="#ff9a00"/>
<rect x="225" y="408" width="27" height="6" fill="#ff5856"/>
<rect x="252" y="408" width="79" height="6" fill="#ff3c38"/>
<rect x="171" y="414" width="27" height="5" fill="#0008bc"/>
<rect x="198" y="414" width="54" height="5" fill="#ff3c38"/>
<rect x="252" y="414" width="27" height="5" fill="#fcf90a"/>
<rect x="279" y="414" width="27" height="5" fill="#ff9a00"/>
<rect x="306" y="414" width="25" height="5" fill="#ff1b11"/>
<rect x="171" y="419" width="27" height="5" fill="#ff1b11"/>
<rect x="198" y="419" width="27" height="5" fill="#ff3c38"/>
<rect x="225" y="419" width="27" height="5" fill="#ddff28"/>
<rect x="279" y="419" width="27" height="5" fill="#ff5856"/>
<rect x="144" y="424" width="27" height="5" fill="#8afd76"/>
<rect x="171" y="424" width="27" height="5" fill="#ff9a00"/>
<rect x="198" y="424" width="27" height="5" fill="#ddff28"/>
<rect x="252" y="424" width="27" height="5" fill="#ff9a00"/>
<rect x="279" y="424" width="27" height="5" fill="#ffc600"/>
<rect x="198" y="429" width="27" height="6" fill="#023ada"/>
<rect x="225" y="429" width="27" height="6" fill="#fcf90a"/>
<rect x="252" y="429" width="27" height="6" fill="#ff5856"/>
<rect x="198" y="435" width="27" height="5" fill="#ffe200"/>
<rect x="225" y="435" width="27" height="5" fill="#ff1b11"/>
<rect x="252" y="435" width="27" height="5" fill="#ddff28"/>
<rect x="198" y="440" width="27" height="5" fill="#0008bc"/>
<rect x="225" y="440" width="27" height="5" fill="#128cec"/>
<rect x="252" y="440" width="27" height="5" fill="#ff5856"/>
<rect x="144" y="445" width="27" height="5" fill="#8afd76"/>
<rect x="171" y="445" width="27" height="5" fill="#fcf90a"/>
<rect x="198" y="445" width="27" height="5" fill="#ddff28"/>
<rect x="171" y="450" width="27" height="6" fill="#fcf90a"/>
<rect x="198" y="450" width="27" height="6" fill="#ff3c38"/>
<rect x="225" y="450" width="27" height="6" fill="#128cec"/>
<rect x="279" y="450" width="27" height="6" fill="#ff3c38"/>
<rect x="198" y="456" width="54" height="5" fill="#ff3c38"/>
<rect x="252" y="456" width="27" height="5" fill="#14ecf8"/>
<rect x="279" y="456" width="27" height="5" fill="#ff1b11"/>
<rect x="306" y="456" width="25" height="5" fill="#ff4c06"/>
<rect x="198" y="461" width="27" height="5" fill="#50fab4"/>
<rect x="225" y="461" width="27" height="5" fill="#ffe200"/>
<rect x="279" y="461" width="27" height="5" fill="#ffe200"/>
<rect x="306" y="461" width="25" height="5" fill="#ff3c38"/>
<rect x="198" y="466" width="27" height="5" fill="#14ecf8"/>
<rect x="225" y="466" width="27" height="5" fill="#ff9a00"/>
<rect x="252" y="466" width="27" height="5" fill="#fcf90a"/>
<rect x="279" y="466" width="27" height="5" fill="#ff1b11"/>
<rect x="306" y="466" width="25" height="5" fill="#ff9a00"/>
<rect x="225" y="471" width="27" height="6" fill="#ffc600"/>
<rect x="252" y="471" width="27" height="6" fill="#fcf90a"/>
<rect x="279" y="471" width="27" height="6" fill="#ff1b11"/>
<rect x="306" y="471" width="25" height="6" fill="#ddff28"/>
<rect x="198" y="477" width="27" height="5" fill="#50fab4"/>
<rect x="225" y="477" width="27" height="5" fill="#ddff28"/>
<rect x="252" y="477" width="27" height="5" fill="#ff8800"/>
<rect x="279" y="477" width="27" height="5" fill="#ff7600"/>
<rect x="225" y="482" width="27" height="5" fill="#128cec"/>
<rect x="252" y="482" width="27" height="5" fill="#ff9a00"/>
<rect x="279" y="482" width="27" height="5" fill="#ff8800"/>
<rect x="306" y="482" width="25" height="5" fill="#1472e6"/>
<rect x="252" y="487" width="27" height="6" fill="#ff9a00"/>
<rect x="279" y="487" width="27" height="6" fill="#eeff18"/>
<rect x="306" y="487" width="25" height="6" fill="#ffe200"/>
</g>
<g transform="translate(0,280.6)">
<rect x="331" y="1" width="21.2" height="210.8" fill="url(#cb)"/>
<path d="M331.6 2.1h2.5 M352 2.1h-2.5 M331.6 15.4h2.5 M352 15.4h-2.5 M331.6 28.7h4.8 M352 28.7h-4.8 M331.6 42h2.5 M352 42h-2.5 M331.6 55.3h2.5 M352 55.3h-2.5 M331.6 68.6h2.5 M352 68.6h-2.5 M331.6 81.9h2.5 M352 81.9h-2.5 M331.6 95.2h4.8 M352 95.2h-4.8 M331.6 108.5h2.5 M352 108.5h-2.5 M331.6 121.8h2.5 M352 121.8h-2.5 M331.6 135.1h2.5 M352 135.1h-2.5 M331.6 148.4h2.5 M352 148.4h-2.5 M331.6 161.7h4.8 M352 161.7h-4.8 M331.6 175h2.5 M352 175h-2.5 M331.6 188.3h2.5 M352 188.3h-2.5 M331.6 201.6h2.5 M352 201.6h-2.5" stroke="#000" stroke-opacity="0.75" stroke-width="0.8" fill="none"/>
<text transform="translate(364,46.1) rotate(-90)" font-size="10.6" textLength="31.6" lengthAdjust="spacingAndGlyphs">1.3×10</text>
<text transform="translate(359,14.3) rotate(-90)" font-size="7.2">4</text>
<text transform="translate(364,112.6) rotate(-90)" font-size="10.6" textLength="31.6" lengthAdjust="spacingAndGlyphs">1.2×10</text>
<text transform="translate(359,80.8) rotate(-90)" font-size="7.2">4</text>
<text transform="translate(364,179.1) rotate(-90)" font-size="10.6" textLength="31.6" lengthAdjust="spacingAndGlyphs">1.1×10</text>
<text transform="translate(359,147.3) rotate(-90)" font-size="7.2">4</text>
<text transform="translate(373.3,15.1) rotate(-90)" font-size="9.8">χ</text>
<text transform="translate(369.2,4.6) rotate(-90)" font-size="7.2">2</text>
</g>
<path d="M35.9 281.5H352.3V492.2H35.9" fill="none" stroke="#000" stroke-width="1"/>
<path d="M36.4 281V492.7" fill="none" stroke="#000" stroke-width="1"/>
<path d="M331.4 281.5V492.2" fill="none" stroke="#000" stroke-width="1"/>
<path d="M39.37 282.2v3.1 M39.37 492.2v-3.1 M42.87 282.2v3.1 M42.87 492.2v-3.1 M46 282.2v5.8 M46 492.2v-5.8 M66.59 282.2v3.1 M66.59 492.2v-3.1 M78.64 282.2v3.1 M78.64 492.2v-3.1 M87.18 282.2v3.1 M87.18 492.2v-3.1 M93.81 282.2v3.1 M93.81 492.2v-3.1 M99.23 282.2v3.1 M99.23 492.2v-3.1 M103.8 282.2v3.1 M103.8 492.2v-3.1 M107.77 282.2v3.1 M107.77 492.2v-3.1 M111.27 282.2v3.1 M111.27 492.2v-3.1 M114.4 282.2v5.8 M114.4 492.2v-5.8 M134.99 282.2v3.1 M134.99 492.2v-3.1 M147.04 282.2v3.1 M147.04 492.2v-3.1 M155.58 282.2v3.1 M155.58 492.2v-3.1 M162.21 282.2v3.1 M162.21 492.2v-3.1 M167.63 282.2v3.1 M167.63 492.2v-3.1 M172.2 282.2v3.1 M172.2 492.2v-3.1 M176.17 282.2v3.1 M176.17 492.2v-3.1 M179.67 282.2v3.1 M179.67 492.2v-3.1 M182.8 282.2v5.8 M182.8 492.2v-5.8 M203.39 282.2v3.1 M203.39 492.2v-3.1 M215.44 282.2v3.1 M215.44 492.2v-3.1 M223.98 282.2v3.1 M223.98 492.2v-3.1 M230.61 282.2v3.1 M230.61 492.2v-3.1 M236.03 282.2v3.1 M236.03 492.2v-3.1 M240.6 282.2v3.1 M240.6 492.2v-3.1 M244.57 282.2v3.1 M244.57 492.2v-3.1 M248.07 282.2v3.1 M248.07 492.2v-3.1 M251.2 282.2v5.8 M251.2 492.2v-5.8 M271.79 282.2v3.1 M271.79 492.2v-3.1 M283.84 282.2v3.1 M283.84 492.2v-3.1 M292.38 282.2v3.1 M292.38 492.2v-3.1 M299.01 282.2v3.1 M299.01 492.2v-3.1 M304.43 282.2v3.1 M304.43 492.2v-3.1 M309 282.2v3.1 M309 492.2v-3.1 M312.97 282.2v3.1 M312.97 492.2v-3.1 M316.47 282.2v3.1 M316.47 492.2v-3.1 M319.6 282.2v5.8 M319.6 492.2v-5.8" stroke="#000" stroke-opacity="0.8" stroke-width="1" fill="none"/>
<path d="M36.9 489.4h5.8 M330.9 489.4h-5.8 M36.9 455.9h3.1 M330.9 455.9h-3.1 M36.9 422.4h5.8 M330.9 422.4h-5.8 M36.9 388.9h3.1 M330.9 388.9h-3.1 M36.9 355.4h5.8 M330.9 355.4h-5.8 M36.9 321.9h3.1 M330.9 321.9h-3.1 M36.9 288.4h5.8 M330.9 288.4h-5.8" stroke="#000" stroke-opacity="0.8" stroke-width="1" fill="none"/>
<circle cx="261.2" cy="406.1" r="4.75" fill="#000"/>
<text transform="translate(28.9,489.5) rotate(-90)" font-size="14.2" text-anchor="middle">0</text>
<text transform="translate(28.9,422.5) rotate(-90)" font-size="14.2" text-anchor="middle">2</text>
<text transform="translate(28.9,355.5) rotate(-90)" font-size="14.2" text-anchor="middle">4</text>
<text transform="translate(28.9,288.5) rotate(-90)" font-size="14.2" text-anchor="middle">6</text>
<text transform="translate(9.9,386.9) rotate(-90)" font-size="13.5" class="i" text-anchor="middle">θ</text>
<text x="37" y="509" font-size="14.2" textLength="14.2" lengthAdjust="spacingAndGlyphs">10</text>
<text x="51.8" y="502.4" font-size="9.6" textLength="13" lengthAdjust="spacingAndGlyphs">−4</text>
<text x="105.1" y="509" font-size="14.2" textLength="14.2" lengthAdjust="spacingAndGlyphs">10</text>
<text x="119.9" y="502.4" font-size="9.6" textLength="13" lengthAdjust="spacingAndGlyphs">−3</text>
<text x="183.85" y="509" font-size="14.2" textLength="26.3" lengthAdjust="spacingAndGlyphs" text-anchor="middle">0.01</text>
<text x="251.1" y="509" font-size="14.2" textLength="18.2" lengthAdjust="spacingAndGlyphs" text-anchor="middle">0.1</text>
<text x="319" y="509" font-size="14.2" text-anchor="middle">1</text>
<text x="185.5" y="530.6" font-size="15" class="s" text-anchor="middle">q</text>
</svg></body></html>
